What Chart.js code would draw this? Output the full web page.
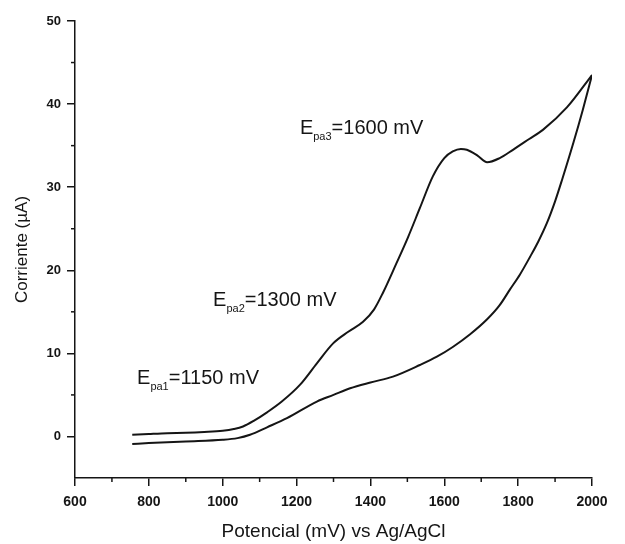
<!DOCTYPE html>
<html>
<head>
<meta charset="utf-8">
<script src="https://cdn.jsdelivr.net/npm/chart.js@4.4.0/dist/chart.umd.min.js"></script>
<style>
  html, body { margin: 0; padding: 0; background: #fff; }
  #wrap { width: 625px; height: 544px; position: relative; }
</style>
</head>
<body>
<div id="wrap"><canvas id="cv"></canvas></div>
<script>
// forward (anodic) scan, upper branch
const fwdPotential = [755, 800, 850, 900, 950, 1000, 1030, 1055, 1085, 1120, 1160, 1209, 1255, 1299, 1340, 1380, 1410, 1434, 1470, 1502, 1534, 1569, 1600, 1623, 1645, 1661, 1690, 1716, 1750, 1786, 1830, 1867, 1932, 2000];
const fwdCurrent = [0.2, 0.3, 0.4, 0.45, 0.55, 0.7, 0.9, 1.2, 1.9, 2.9, 4.2, 6.2, 8.8, 11.2, 12.6, 13.8, 15.3, 17.3, 20.8, 24.0, 27.5, 31.3, 33.5, 34.3, 34.6, 34.5, 33.8, 33.0, 33.5, 34.5, 35.8, 36.9, 39.6, 43.5];

// reverse scan, lower branch
const revPotential = [755, 800, 900, 1000, 1040, 1074, 1120, 1174, 1255, 1300, 1345, 1400, 1461, 1534, 1580, 1624, 1670, 1716, 1750, 1778, 1805, 1832, 1855, 1878, 1900, 1919, 1950, 1975, 2000];
const revCurrent = [-0.9, -0.8, -0.6, -0.4, -0.2, 0.2, 1.1, 2.2, 4.2, 5.0, 5.8, 6.5, 7.2, 8.6, 9.6, 10.8, 12.3, 14.1, 15.8, 17.7, 19.5, 21.6, 23.5, 25.7, 28.3, 30.9, 35.4, 39.3, 43.5];

const xTicks = [600, 800, 1000, 1200, 1400, 1600, 1800, 2000];
const yTicks = [0, 10, 20, 30, 40, 50];
const xMinorTicks = [700, 900, 1100, 1300, 1500, 1700, 1900];
const yMinorTicks = [5, 15, 25, 35, 45];

// peak labels: [main, subscript, rest, potential anchor, current anchor]
const peakLabels = [
  ['E', 'pa1', '=1150 mV', 768, 6.3],
  ['E', 'pa2', '=1300 mV', 974, 15.7],
  ['E', 'pa3', '=1600 mV', 1209, 36.4]
];

function toPoints(xs, ys) {
  return xs.map((x, i) => ({ x: x, y: ys[i] }));
}

const ink = '#151515';
const fontFam = '"Liberation Sans", Arial, sans-serif';

const extrasPlugin = {
  id: 'extras',
  afterDraw(chart) {
    const ctx = chart.ctx;
    const xs = chart.scales.x;
    const ys = chart.scales.y;
    ctx.save();
    ctx.strokeStyle = ink;
    ctx.lineWidth = 1.5;
    // minor ticks
    xMinorTicks.forEach((v) => {
      const px = xs.getPixelForValue(v);
      ctx.beginPath();
      ctx.moveTo(px, ys.bottom);
      ctx.lineTo(px, ys.bottom + 4);
      ctx.stroke();
    });
    yMinorTicks.forEach((v) => {
      const py = ys.getPixelForValue(v);
      ctx.beginPath();
      ctx.moveTo(xs.left, py);
      ctx.lineTo(xs.left - 4, py);
      ctx.stroke();
    });
    // peak annotations
    ctx.fillStyle = ink;
    ctx.textBaseline = 'alphabetic';
    peakLabels.forEach((p) => {
      let px = xs.getPixelForValue(p[3]);
      const py = ys.getPixelForValue(p[4]);
      ctx.font = '20px ' + fontFam;
      ctx.fillText(p[0], px, py);
      px += ctx.measureText(p[0]).width;
      ctx.font = '11px ' + fontFam;
      ctx.fillText(p[1], px, py + 6);
      px += ctx.measureText(p[1]).width;
      ctx.font = '20px ' + fontFam;
      ctx.fillText(p[2], px, py);
    });
    ctx.restore();
  }
};

function mainEvent() {
  const target = document.querySelector('#cv');
  const chart = new Chart(target, {
    type: 'line',
    data: {
      datasets: [
        {
          data: toPoints(fwdPotential, fwdCurrent),
          borderColor: ink,
          borderWidth: 2,
          pointRadius: 0,
          cubicInterpolationMode: 'monotone'
        },
        {
          data: toPoints(revPotential, revCurrent),
          borderColor: ink,
          borderWidth: 2,
          pointRadius: 0,
          cubicInterpolationMode: 'monotone'
        }
      ]
    },
    options: {
      responsive: true,
      maintainAspectRatio: false,
      animation: false,
      layout: { padding: { left: 0, top: 21, right: 33, bottom: 0 } },
      plugins: { legend: { display: false }, tooltip: { enabled: false } },
      scales: {
        x: {
          type: 'linear',
          min: 600,
          max: 2000,
          afterFit: (s) => { s.height = 66; },
          afterBuildTicks: (s) => { s.ticks = xTicks.map((v) => ({ value: v })); },
          border: { color: ink, width: 1.5 },
          grid: { drawOnChartArea: false, drawTicks: true, tickLength: 8, color: ink, lineWidth: 1.5 },
          ticks: {
            color: ink,
            padding: 8,
            maxRotation: 0,
            callback: (v) => String(v),
            font: { family: fontFam, size: 14, weight: 'bold' }
          },
          title: {
            display: true,
            text: 'Potencial (mV) vs Ag/AgCl',
            color: ink,
            padding: { top: 0, bottom: 1 },
            font: { family: fontFam, size: 19 }
          }
        },
        y: {
          type: 'linear',
          min: -5,
          max: 50,
          afterFit: (s) => { s.width = 75; },
          afterBuildTicks: (s) => { s.ticks = yTicks.map((v) => ({ value: v })); },
          border: { color: ink, width: 1.5 },
          grid: { drawOnChartArea: false, drawTicks: true, tickLength: 8, color: ink, lineWidth: 1.5 },
          ticks: {
            color: ink,
            padding: 6,
            callback: (v) => String(v),
            font: { family: fontFam, size: 13, weight: 'bold' }
          },
          title: {
            display: true,
            text: 'Corriente (µA)',
            color: ink,
            padding: { top: 12, bottom: 0 },
            font: { family: fontFam, size: 17 }
          }
        }
      }
    },
    plugins: [extrasPlugin]
  });
  return chart;
}

document.addEventListener('DOMContentLoaded', () => mainEvent());
</script>
</body>
</html>
